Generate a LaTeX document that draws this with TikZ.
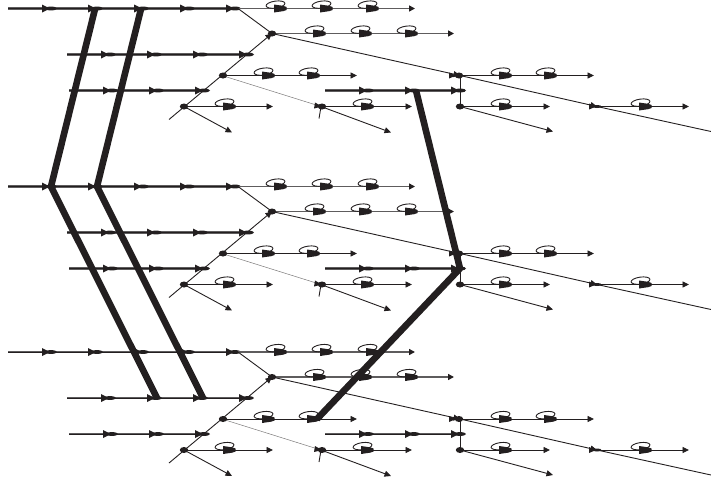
\documentclass[tikz,border=0pt]{standalone}
\usetikzlibrary{arrows.meta}
\definecolor{ink}{HTML}{231F20}
\definecolor{band}{HTML}{5E5C5D}
\tikzset{
  x=1pt,y=-1pt,
  wire/.style={draw=ink,line width=0.9pt},
  arrowwire/.style={wire,-{Triangle[length=6.5pt,width=6pt]}},
  greywire/.style={draw=band,line width=1.5pt,-{Triangle[length=6pt,width=6pt,color=ink]}},
  busline/.style={draw=band,line width=2.4pt},
  buscore/.style={draw=ink,line width=0.8pt},
  faint/.style={draw=ink!60,line width=0.5pt},
  trunk/.style={draw=ink,line width=6.6pt},
  looparc/.style={draw=ink,line width=0.9pt},
  tip/.style={fill=ink,draw=none},
}
% slot marker: triangle and blob on a bus
\newcommand{\busmark}[2]{%
  \fill[tip] (#1-3,#2-4) -- (#1+5,#2) -- (#1-3,#2+4) -- cycle;
  \fill[tip] (#1+6,#2) ellipse (6 and 1.9);}
% self-loop marker: x is the blob position
\newcommand{\selfloop}[2]{%
  \draw[looparc] (#1-7.5,#2-3.9) ellipse [x radius=9.5,y radius=3.5,rotate=8];
  \fill[tip] (#1-9,#2-4) -- (#1+0.5,#2-2.6) -- (#1+3.5,#2-1.5) -- (#1+3.5,#2+1.5) -- (#1+0.5,#2+2.6) -- (#1-9,#2+4) -- cycle;}
\newcommand{\dotmark}[2]{\fill[tip] (#1,#2) ellipse (4.2 and 3);}
\begin{document}
\begin{tikzpicture}
\useasboundingbox (0,0) rectangle (711,482);
\foreach \g/\dy in {a/0.5,b/178.5,c/344}{
\begin{scope}[shift={(0,\dy)}]
  % named junctions
  \coordinate (\g-in) at (8,8);
  \coordinate (\g-fork) at (238,8);
  \coordinate (\g-topend) at (415,8);
  \coordinate (\g-hub) at (272,33);
  \coordinate (\g-hubend) at (454,33);
  \coordinate (\g-b2s) at (67,54);
  \coordinate (\g-b2e) at (252,54);
  \coordinate (\g-b3s) at (69,90);
  \coordinate (\g-b3e) at (208,90);
  \coordinate (\g-tail) at (169,119);
  \coordinate (\g-mid) at (222,75);
  \coordinate (\g-midend) at (357,75);
  \coordinate (\g-low) at (184,106);
  \coordinate (\g-lowend) at (273,106);
  \coordinate (\g-lowdiag) at (232,132);
  \coordinate (\g-n) at (321,106);
  \coordinate (\g-ntail) at (319,118);
  \coordinate (\g-nend) at (412,106);
  \coordinate (\g-ndiag) at (391,132);
  \coordinate (\g-r) at (460,75);
  \coordinate (\g-rend) at (594,75);
  \coordinate (\g-rlow) at (460,106);
  \coordinate (\g-rlowend) at (550,106);
  \coordinate (\g-rdiag) at (553,131);
  \coordinate (\g-s) at (597,106);
  \coordinate (\g-send) at (689,106);
  \coordinate (\g-out) at (711,131);
  \coordinate (\g-b4s) at (325,90);
  \coordinate (\g-b4e) at (465,90);
  % buses
  \draw[busline] (\g-in) -- (\g-fork);
  \draw[busline] (\g-b2s) -- (\g-b2e);
  \draw[busline] (\g-b3s) -- (\g-b3e);
  \draw[busline] (\g-b4s) -- (\g-b4e);
  \draw[buscore] (\g-in) -- (\g-fork);
  \draw[buscore] (\g-b2s) -- (\g-b2e);
  \draw[buscore] (\g-b3s) -- (\g-b3e);
  \draw[buscore] (\g-b4s) -- (\g-b4e);
  \foreach \x in {45,91,137,183,229}{\busmark{\x}{8}}
  \foreach \x in {104,150,196,242}{\busmark{\x}{54}}
  \foreach \x in {106,152,198}{\busmark{\x}{90}}
  \foreach \x in {362,408,454}{\busmark{\x}{90}}
  % outgoing chains
  \draw[greywire] (\g-fork) -- (\g-topend);
  \draw[greywire] (\g-hub) -- (\g-hubend);
  \draw[wire] (\g-fork) -- (\g-hub);
  \draw[arrowwire] (\g-tail) -- (\g-hub);
  \draw[arrowwire] (\g-mid) -- (\g-midend);
  \draw[arrowwire] (\g-low) -- (\g-lowend);
  \draw[arrowwire] (\g-low) -- (\g-lowdiag);
  \draw[faint] (\g-mid) -- (\g-n);
  \draw[wire] (\g-ntail) -- (\g-n);
  \draw[arrowwire] (\g-n) -- (\g-nend);
  \draw[arrowwire] (\g-n) -- (\g-ndiag);
  \draw[arrowwire] (\g-hub) -- (\g-r);
  \draw[arrowwire] (\g-r) -- (\g-rend);
  \draw[arrowwire] (\g-r) -- (\g-s);
  \draw[wire] (\g-s) -- (\g-out);
  \draw[arrowwire] (\g-s) -- (\g-send);
  \draw[wire] (\g-r) -- (\g-rlow);
  \draw[arrowwire] (\g-rlow) -- (\g-rlowend);
  \draw[arrowwire] (\g-rlow) -- (\g-rdiag);
  % markers
  \foreach \x in {283,329,375}{\selfloop{\x}{8}}
  \foreach \x in {322,368,414}{\selfloop{\x}{33}}
  \foreach \x in {271,316}{\selfloop{\x}{75}}
  \selfloop{232}{106}
  \selfloop{370}{106}
  \foreach \x in {508,553}{\selfloop{\x}{75}}
  \selfloop{508}{106}
  \selfloop{648}{106}
  \dotmark{272}{33}
  \dotmark{223}{75}
  \dotmark{184}{106}
  \dotmark{322}{106}
  \dotmark{459}{75}
  \dotmark{460}{106}
  \fill[tip] (597,106) ellipse (4.5 and 1.5);
  \fill[tip] (315,102) -- (322,106) -- (314,108) -- cycle;
  \fill[tip] (449,72) -- (456,75) -- (449,78) -- cycle;
  \fill[tip] (589,103) -- (596,106) -- (589,109) -- cycle;
\end{scope}
}
% thick trunks
\coordinate (ta) at (95,9);
\coordinate (tb) at (141,9);
\coordinate (tc) at (51,186.5);
\coordinate (td) at (97,186.5);
\coordinate (te) at (157,398);
\coordinate (tf) at (203,398);
\coordinate (tg) at (416,90.5);
\coordinate (th) at (460,268.5);
\coordinate (ti) at (317,419);
\draw[trunk] (ta) -- (tc) -- (te);
\draw[trunk] (tb) -- (td) -- (tf);
\draw[trunk,line join=round] (tg) -- (th) -- (ti);
\end{tikzpicture}
\end{document}
